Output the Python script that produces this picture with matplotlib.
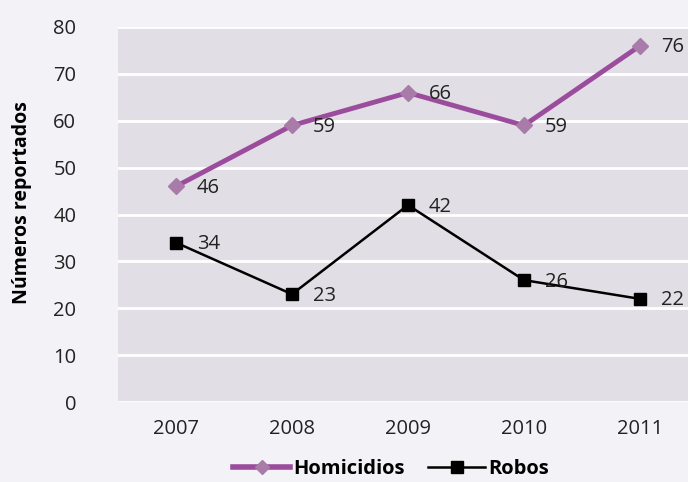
import matplotlib.pyplot as plt
from matplotlib.lines import Line2D

plt.rcParams['font.family'] = ['Open Sans', 'DejaVu Sans']

# Datos
anios = [2007, 2008, 2009, 2010, 2011]
homicidios = [46, 59, 66, 59, 76]
robos = [34, 23, 42, 26, 22]

colorHom = '#9c4c9c'
colorHomMarca = '#a97ba8'
fondo = '#f3f2f6'
fondoEjes = '#e1dee5'

fig = plt.figure(figsize=(6.88, 4.82), dpi=100)
fig.patch.set_facecolor(fondo)
ax = fig.add_axes([118 / 688, 1 - 402 / 482, 580 / 688, 375 / 482])
ax.set_facecolor(fondoEjes)

ax.plot(anios, homicidios, color=colorHom, lw=3.5, marker='D', ms=8,
        markerfacecolor=colorHomMarca, markeredgecolor=colorHomMarca, zorder=3)
ax.plot(anios, robos, color='black', lw=1.8, marker='s', ms=8.5,
        markerfacecolor='black', zorder=3)

for x, y in zip(anios, homicidios):
    ax.annotate(str(y), (x, y), xytext=(15, -1), textcoords='offset points',
                fontsize=14.5, color='#222222', va='center', ha='left')
for x, y in zip(anios, robos):
    ax.annotate(str(y), (x, y), xytext=(15, -1), textcoords='offset points',
                fontsize=14.5, color='#222222', va='center', ha='left')

ax.set_xlim(2006.5, 2011.5)
ax.set_ylim(0, 80)
ax.set_yticks(range(0, 81, 10))
ax.set_xticks(anios)
ax.grid(axis='y', color='white', lw=2)
ax.set_axisbelow(True)
for s in ax.spines.values():
    s.set_visible(False)
ax.tick_params(length=0, labelsize=14.5, labelcolor='#222222')
ax.tick_params(axis='x', pad=12)
ax.tick_params(axis='y', pad=30)

fig.text(22 / 688, 1 - 203 / 482, 'Números reportados', rotation=90,
         fontsize=14, fontweight='bold', ha='center', va='center')

handles = [
    Line2D([], [], color=colorHom, lw=4, marker='D', ms=7,
           markerfacecolor=colorHomMarca, markeredgecolor=colorHomMarca),
    Line2D([], [], color='black', lw=1.8, marker='s', ms=8),
]
fig.legend(handles, ['Homicidios', 'Robos'], loc='center',
           bbox_to_anchor=(391 / 688, 1 - 469 / 482), ncol=2, frameon=False,
           prop={'weight': 'bold', 'size': 14.5}, handlelength=2.8,
           handletextpad=0.15, columnspacing=1.2)

fig.savefig('out.png', dpi=100, facecolor=fondo)
